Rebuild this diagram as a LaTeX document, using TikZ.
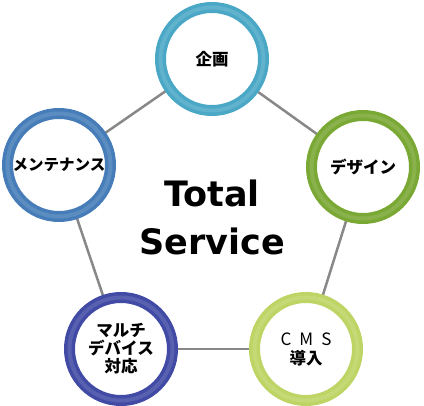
\documentclass[tikz,border=0pt]{standalone}
\usepackage{fontspec}
\usepackage{tikz}
\usepackage{xcolor}
\usetikzlibrary{backgrounds}
\newfontfamily\jpfont{Noto Sans CJK JP}
\newfontfamily\titlefont{DejaVu Sans}
\definecolor{planblue}{RGB}{74,168,198}
\definecolor{designgreen}{RGB}{122,168,52}
\definecolor{cmsgreen}{RGB}{190,212,100}
\definecolor{multiblue}{RGB}{65,75,165}
\definecolor{maintblue}{RGB}{70,125,185}
\definecolor{linkgray}{RGB}{136,136,136}
\tikzset{
  ring/.style={circle, draw=#1, double=#1!88!white, line width=3.5pt,
    double distance=4pt, fill=white, minimum size=103pt, inner sep=0pt,
    align=center, font=\jpfont\bfseries\fontsize{16.5}{18}\selectfont},
  link/.style={draw=linkgray, line width=2.5pt}
}

\begin{document}
\begin{tikzpicture}[x=1pt,y=-1pt]
    \useasboundingbox (0,0) rectangle (424,406);
    % Service circles
    \node[ring=planblue] (plan) at (212,59) {企画};
    \node[ring=designgreen] (design) at (363,167) {デザイン};
    \node[ring=cmsgreen] (cms) at (306,349) {\mdseries\fontsize{17}{19}\selectfont C\hspace{8pt}M\hspace{8pt}S\\[1pt]\bfseries 導入};
    \node[ring=multiblue] (multi) at (121,349) {マルチ\\デバイス\\対応};
    \node[ring=maintblue] (maint) at (59,165) {\fontsize{15.5}{18}\selectfont メンテナンス};

    % Centre title
    \node[font=\titlefont\bfseries\fontsize{35}{48}\selectfont, align=center] (title) at (212,217) {Total\\Service};

    % Links
    \begin{scope}[on background layer]
        \draw[link] (plan) -- (design);
        \draw[link] (design) -- (cms);
        \draw[link] (cms) -- (multi);
        \draw[link] (multi) -- (maint);
        \draw[link] (maint) -- (plan);
    \end{scope}
\end{tikzpicture}
\end{document}
